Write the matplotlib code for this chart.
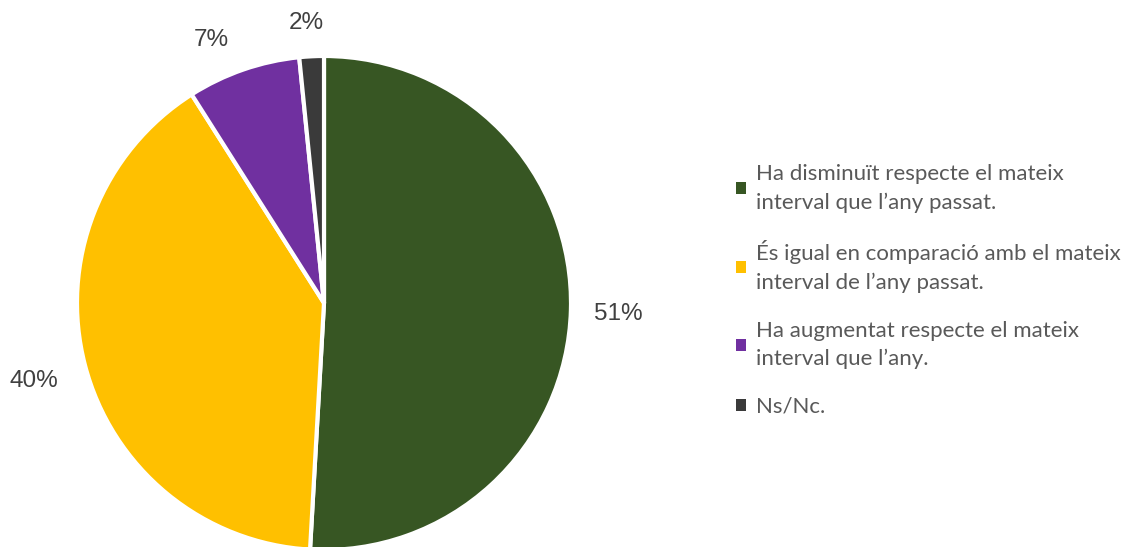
import numpy as np
import matplotlib.pyplot as plt

labels = [
    "Ha disminuït respecte el mateix\ninterval que l’any passat.",
    "És igual en comparació amb el mateix\ninterval de l’any passat.",
    "Ha augmentat respecte el mateix\ninterval que l’any.",
    "Ns/Nc.",
]
values = [50.9, 40.1, 7.4, 1.6]
pct_labels = ["51%", "40%", "7%", "2%"]
colors = ["#375623", "#FFC000", "#7030A0", "#3A3A3A"]
# label placement: distance from centre (radius = 1) and small nudge in pixels
label_dist = [1.19, 1.215, 1.165, 1.148]
label_nudge = [(0, -3), (0, -2), (-19, -9), (-3, -3)]

fig = plt.figure(figsize=(11.35, 5.47), dpi=100)
ax = fig.add_axes([77 / 1135, -3 / 547, 494 / 1135, 494 / 547])

wedges, _ = ax.pie(
    values,
    colors=colors,
    startangle=90,
    counterclock=False,
    wedgeprops=dict(edgecolor="white", linewidth=3),
)
px = 1 / 247
for w, lab, d, (nx, ny) in zip(wedges, pct_labels, label_dist, label_nudge):
    ang = np.deg2rad((w.theta1 + w.theta2) / 2)
    ax.text(d * np.cos(ang) + nx * px, d * np.sin(ang) + ny * px, lab,
            ha="center", va="center",
            fontsize=17.5, color="#404040", family="Liberation Sans")
    w.set_clip_on(False)
ax.set_xlim(-1, 1)
ax.set_ylim(-1, 1)
ax.set_aspect("equal")

leg = fig.legend(
    wedges,
    labels,
    loc="upper left",
    bbox_to_anchor=(716 / 1135, 1 - 144 / 547),
    frameon=False,
    handlelength=0.45,
    handleheight=0.45,
    handletextpad=0.45,
    labelspacing=1.25,
    prop=dict(family="Lato", size=16),
)
for t in leg.get_texts():
    t.set_color("#595959")
    t.set_linespacing(1.5)
for h in leg.legend_handles:
    h.set_edgecolor("none")

fig.savefig("out.png", dpi=100)
